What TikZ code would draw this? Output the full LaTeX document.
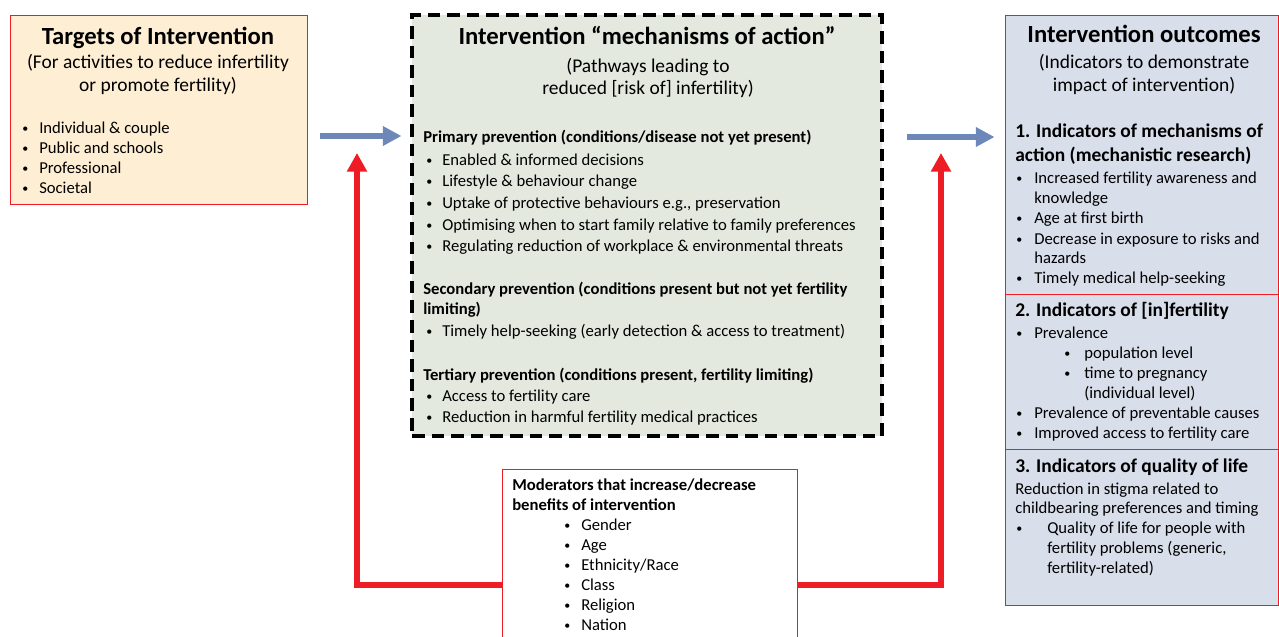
\documentclass[tikz,border=0pt]{standalone}
\usepackage{fontspec}
\setmainfont{Carlito}
\usetikzlibrary{arrows.meta,fit,calc}
\definecolor{lbfill}{HTML}{FEEFD4}
\definecolor{mbfill}{HTML}{E3E9DF}
\definecolor{rbfill}{HTML}{D9DEEB}
\definecolor{boxred}{HTML}{EE1C25}
\definecolor{arrblue}{HTML}{6C87B8}
\newcounter{ln}
\newcommand\smbul{\raisebox{0.6pt}{\fontsize{9}{9}\selectfont •}}
\tikzset{
  txt/.style={anchor=base west,inner sep=0pt,font=\fontsize{12.5}{15}\selectfont},
  bld/.style={txt,font=\fontsize{12.5}{15}\selectfont\bfseries},
  hd/.style={txt,font=\fontsize{14.6}{17}\selectfont\bfseries},
  ttl/.style={anchor=base,inner sep=0pt,font=\fontsize{18.5}{22}\selectfont\bfseries},
  sub/.style={anchor=base,inner sep=0pt,font=\fontsize{14.6}{17}\selectfont},
  redbox/.style={draw=boxred,line width=0.75pt,inner sep=0pt},
  dashbox/.style={draw=black,line width=2.3pt,dash pattern=on 9.4pt off 5.3pt,inner sep=0pt,fill=mbfill},
  bluearr/.style={draw=arrblue,line width=4.6pt,-{Triangle[length=14pt,width=14pt]}},
  redarr/.style={draw=boxred,line width=3.9pt,-{Triangle[length=14pt,width=14.5pt]}},
}
\newcommand\tl[4][txt]{\stepcounter{ln}\node[#1] (l\theln) at (#2,#3) {#4};}
\newcommand\bt[4]{\stepcounter{ln}\node[txt] (b\theln) at (#1,#3) {\smbul};\node[txt] (l\theln) at (#2,#3) {#4};}
\begin{document}
\begin{tikzpicture}[x=0.75pt,y=-0.75pt]
\useasboundingbox (0,0) rectangle (1279,636);
\clip (0,0) rectangle (1279,636);
\fill[white] (0,0) rectangle (1279,636);
% boxes
\node[redbox,fill=lbfill,fit={(10,15) (307,204)}] (lb) {};
\node[dashbox,fit={(412,15) (882,436)}] (mb) {};
\node[redbox,fill=rbfill,fit={(1005,15) (1278.5,605)}] (rb) {};
\draw[boxred,line width=0.75pt] (1005,294) -- (1278.5,294);
\draw[boxred,line width=0.75pt] (1005,449) -- (1278.5,449);
\node[redbox,fill=white,fit={(502,469) (797,650)}] (mod) {};
% left box text
\tl[ttl]{158}{44}{Targets of Intervention}
\tl[sub]{158}{68}{(For activities to reduce infertility}
\tl[sub]{158}{91}{or promote fertility)}
\bt{22}{39}{133}{Individual \& couple}
\bt{22}{39}{153}{Public and schools}
\bt{22}{39}{173}{Professional}
\bt{22}{39}{193}{Societal}
% middle box text
\tl[ttl]{647}{44}{Intervention “mechanisms of action”}
\tl[sub]{648}{72}{(Pathways leading to}
\tl[sub]{648}{94}{reduced [risk of] infertility)}
\tl[bld]{423}{142}{Primary prevention (conditions/disease not yet present)}
\bt{426}{442}{165}{Enabled \& informed decisions}
\bt{426}{442}{186}{Lifestyle \& behaviour change}
\bt{426}{442}{208}{Uptake of protective behaviours e.g., preservation}
\bt{426}{442}{230}{Optimising when to start family relative to family preferences}
\bt{426}{442}{251}{Regulating reduction of workplace \& environmental threats}
\tl[bld]{423}{294}{Secondary prevention (conditions present but not yet fertility}
\tl[bld]{423}{314}{limiting)}
\bt{426}{442}{336}{Timely help-seeking (early detection \& access to treatment)}
\tl[bld]{423}{380}{Tertiary prevention (conditions present, fertility limiting)}
\bt{426}{442}{401}{Access to fertility care}
\bt{426}{442}{422}{Reduction in harmful fertility medical practices}
% right box text
\tl[ttl]{1144}{42}{Intervention outcomes}
\tl[sub]{1144}{68}{(Indicators to demonstrate}
\tl[sub]{1144}{91}{impact of intervention)}
\tl[hd]{1015}{137}{1. Indicators of mechanisms of}
\tl[hd]{1015}{161}{action (mechanistic research)}
\bt{1016}{1034}{183}{Increased fertility awareness and}
\tl{1034}{203}{knowledge}
\bt{1016}{1034}{223}{Age at first birth}
\bt{1016}{1034}{244}{Decrease in exposure to risks and}
\tl{1034}{263}{hazards}
\bt{1016}{1034}{283}{Timely medical help-seeking}
\tl[hd]{1015}{316}{2. Indicators of [in]fertility}
\bt{1016}{1034}{338}{Prevalence}
\bt{1064}{1084}{358}{population level}
\bt{1064}{1084}{378}{time to pregnancy}
\tl{1084}{398}{(individual level)}
\bt{1016}{1034}{418}{Prevalence of preventable causes}
\bt{1016}{1034}{438}{Improved access to fertility care}
\tl[hd]{1015}{472}{3. Indicators of quality of life}
\tl{1015}{494}{Reduction in stigma related to}
\tl{1015}{513}{childbearing preferences and timing}
\bt{1016}{1047}{533}{Quality of life for people with}
\tl{1047}{553}{fertility problems (generic,}
\tl{1047}{573}{fertility-related)}
% moderators
\tl[bld]{512}{490}{Moderators that increase/decrease}
\tl[bld]{512}{510}{benefits of intervention}
\bt{564}{581}{530}{Gender}
\bt{564}{581}{550}{Age}
\bt{564}{581}{570}{Ethnicity/Race}
\bt{564}{581}{590}{Class}
\bt{564}{581}{610}{Religion}
\bt{564}{581}{630}{Nation}
% connectors
\coordinate (a1) at (320,136);
\coordinate (a2) at (907,137);
\draw[bluearr,shorten >=9*0.75pt] (a1) -- (a1 -| mb.west);
\draw[bluearr,shorten >=10*0.75pt] (a2) -- (a2 -| rb.west);
\coordinate (r1) at (357,153);
\coordinate (r2) at (941,153);
\coordinate (rh) at (0,585);
\draw[redarr] (mod.west |- rh) -| (r1);
\draw[redarr] (mod.east |- rh) -| (r2);
\end{tikzpicture}
\end{document}
